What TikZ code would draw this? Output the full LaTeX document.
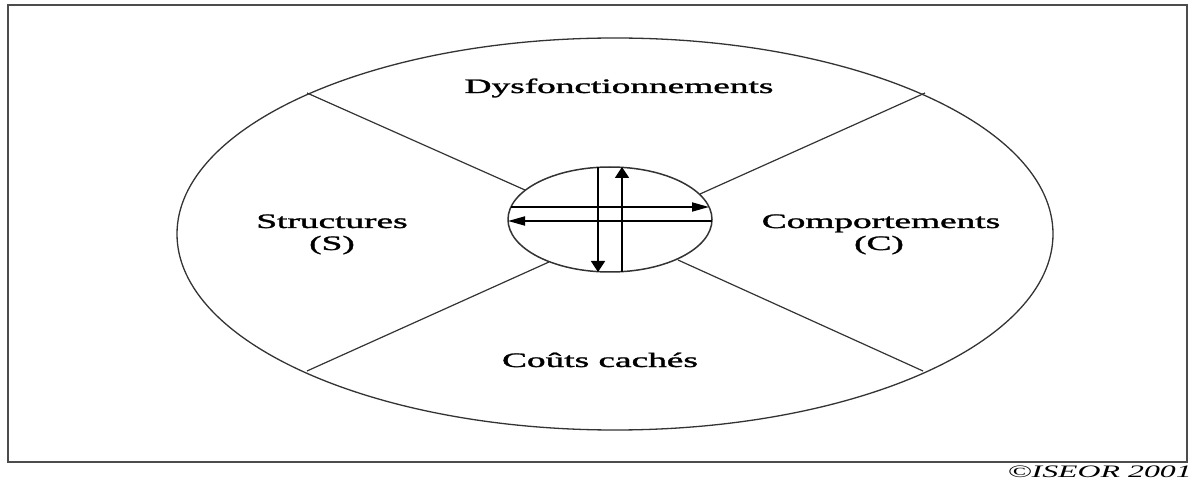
\documentclass[tikz,border=0pt]{standalone}
\usepackage{fontspec}
\setmainfont{Liberation Serif}
\newfontfamily\zonefont[FakeBold=1.2]{Liberation Serif}
\usetikzlibrary{arrows.meta,shapes.geometric}
\newcommand{\stretched}[1]{\scalebox{1.82}[1]{#1}}
\tikzset{
  zone/.style={font=\zonefont\fontsize{20.5}{22}\selectfont, inner sep=0pt, anchor=base},
  ring/.style={draw, ellipse, black!80, inner sep=0pt, outer sep=0pt},
  vhead/.style={-{Triangle[length=11pt,width=14pt]}, line width=1.8pt},
  hhead/.style={-{Triangle[length=17pt,width=9pt]}, line width=1.8pt},
}
\begin{document}
\begin{tikzpicture}[x=1pt,y=-1pt]
    \useasboundingbox (0,0) rectangle (1192,486);
    % Frame
    \draw[line width=2.5pt, black!70] (8,5) rectangle (1187,462);
    % Outer and inner ellipses
    \node[ring, line width=1.3pt, minimum width=876pt, minimum height=392pt] (outer) at (615,234) {};
    \node[ring, line width=1.5pt, minimum width=204pt, minimum height=105pt] (inner) at (610,219.5) {};
    % Separating lines
    \coordinate (ulo) at (307,93);  \coordinate (uli) at (525,190);
    \coordinate (uro) at (925,93);  \coordinate (uri) at (700,194);
    \coordinate (llo) at (307,371); \coordinate (lli) at (549,262);
    \coordinate (lro) at (923,371); \coordinate (lri) at (678,260);
    \draw[line width=1.2pt, black!80] (ulo) -- (uli);
    \draw[line width=1.2pt, black!80] (uro) -- (uri);
    \draw[line width=1.2pt, black!80] (llo) -- (lli);
    \draw[line width=1.2pt, black!80] (lro) -- (lri);
    % Arrows in the centre
    \coordinate (rt) at (511,207); \coordinate (rh) at (709,207);
    \coordinate (lt) at (712,221); \coordinate (lh) at (508,221);
    \coordinate (dt) at (598,167); \coordinate (dh) at (598,272);
    \coordinate (ut) at (622,272); \coordinate (uh) at (622,167);
    \draw[hhead] (rt) -- (rh);
    \draw[hhead] (lt) -- (lh);
    \draw[vhead] (dt) -- (dh);
    \draw[vhead] (ut) -- (uh);
    % Labels
    \node[zone] (dysf) at (619,93) {\stretched{Dysfonctionnements}};
    \node[zone] (struct) at (332,228) {\stretched{Structures}};
    \node[zone] (structS) at (332,250) {\stretched{(S)}};
    \node[zone] (comp) at (881,228) {\stretched{Comportements}};
    \node[zone] (compC) at (879,250) {\stretched{(C)}};
    \node[zone] (couts) at (600,367) {\stretched{Coûts cachés}};
    % Source
    \node[font=\fontsize{17.5}{20}\selectfont\itshape, inner sep=0pt, anchor=base east] (src) at (1192,477) {\stretched{©ISEOR 2001}};
\end{tikzpicture}
\end{document}
